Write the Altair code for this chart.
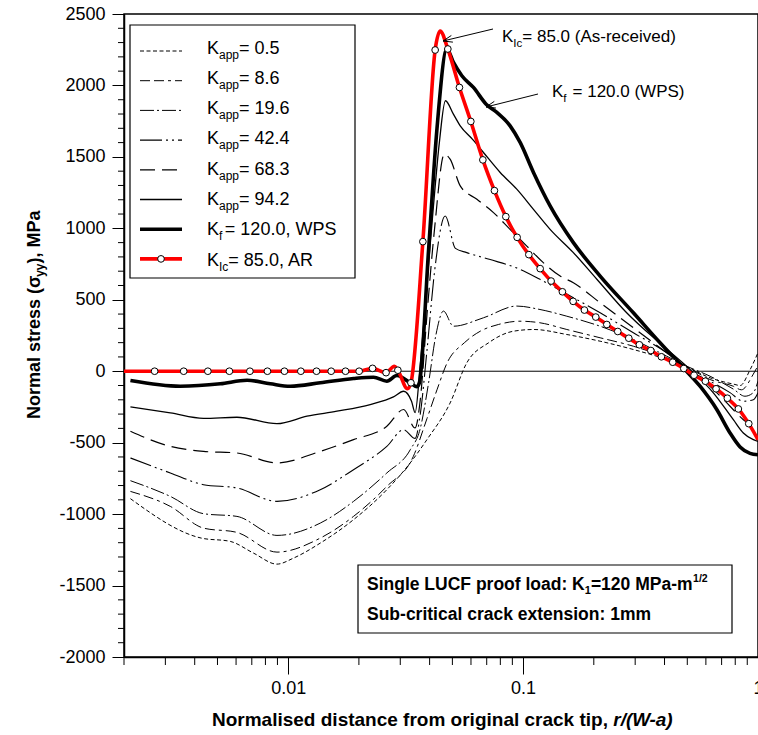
import math
import altair as alt
import pandas as pd

# ---------------- data ----------------
K05_X = [0.00213, 0.00427, 0.00567, 0.00712, 0.00896, 0.01053, 0.01369, 0.01897, 0.0263, 0.03306,
         0.03895, 0.0489, 0.0576, 0.0713, 0.091, 0.111, 0.1535, 0.2128, 0.2947, 0.4089,
         0.4974, 0.625, 0.7852, 0.84, 0.925, 1.0]
K05_Y = [-892, -1168, -1191, -1273, -1350, -1308, -1203, -1039, -829, -642,
         -479, -222, 59, 199, 280, 292, 257, 210, 152, 82,
         31, -46, -90, -100, 10, 130]

K86_X = [0.00213, 0.00315, 0.00436, 0.00605, 0.00896, 0.01369, 0.01897, 0.0263, 0.0341, 0.039,
         0.043, 0.0475, 0.0562, 0.0657, 0.0785, 0.097, 0.118, 0.1535, 0.2128, 0.2947,
         0.4089, 0.4974, 0.625, 0.7852, 0.85, 0.9552, 1.0]
K86_Y = [-841, -946, -1098, -1128, -1266, -1168, -1016, -806, -596, -330,
         -130, 59, 199, 280, 327, 350, 339, 292, 234, 175,
         94, 31, -58, -105, -130, -20, 40]

K196_X = [0.00213, 0.00315, 0.00436, 0.00605, 0.00896, 0.01369, 0.01897, 0.0263, 0.0331, 0.0365,
          0.0396, 0.0425, 0.0458, 0.0505, 0.0678, 0.094, 0.118, 0.1535, 0.2128, 0.2947,
          0.4089, 0.4974, 0.625, 0.7852, 0.88, 0.9552, 1.0]
K196_Y = [-766, -876, -997, -1016, -1149, -1063, -911, -712, -549, -400,
          -81, 250, 421, 315, 374, 456, 432, 385, 315, 222,
          105, 35, -35, -125, -175, -150, -70]

K424_X = [0.00213, 0.00315, 0.00436, 0.00605, 0.00896, 0.01369, 0.01897, 0.0263, 0.031, 0.0347,
          0.0365, 0.039, 0.042, 0.0466, 0.0515, 0.0576, 0.0718, 0.0971, 0.118, 0.1535,
          0.2128, 0.2947, 0.4089, 0.5137, 0.625, 0.7603, 0.8661, 0.9552, 1.0]
K424_Y = [-607, -712, -794, -817, -911, -829, -689, -526, -409, -470,
          -300, 150, 700, 1086, 860, 830, 783, 713, 643, 540,
          409, 269, 129, 0, -70, -150, -210, -200, -150]

K683_X = [0.00213, 0.00315, 0.00436, 0.00605, 0.00896, 0.01369, 0.01897, 0.0263, 0.031, 0.0347,
          0.0365, 0.039, 0.042, 0.0462, 0.0489, 0.054, 0.0636, 0.0748, 0.088, 0.1037,
          0.1219, 0.1438, 0.1637, 0.2128, 0.2947, 0.4089, 0.4974, 0.625, 0.7603, 0.8661,
          0.9552, 1.0]
K683_Y = [-420, -526, -561, -572, -642, -561, -479, -385, -268, -397,
          -200, 400, 1000, 1519, 1484, 1297, 1203, 1110, 993, 876,
          760, 666, 619, 479, 304, 129, 24, -105, -245, -339,
          -385, -395]

K942_X = [0.00213, 0.00315, 0.00436, 0.00605, 0.00896, 0.01202, 0.01612, 0.02234, 0.02806, 0.031,
          0.0335, 0.0347, 0.0365, 0.039, 0.0415, 0.044, 0.0467, 0.0505, 0.054, 0.0608,
          0.0678, 0.0799, 0.094, 0.1107, 0.1303, 0.1637, 0.2065, 0.276, 0.3956, 0.5137,
          0.6455, 0.7852, 0.8661, 0.9552, 1.0]
K942_Y = [-250, -292, -330, -322, -367, -315, -280, -233, -180, -140,
          -210, -290, 50, 620, 1150, 1600, 1893, 1799, 1717, 1624,
          1531, 1391, 1274, 1133, 993, 830, 642, 409, 175, 12,
          -151, -339, -432, -479, -491]

WPS_X = [0.00213, 0.00347, 0.00514, 0.00668, 0.00839, 0.0102, 0.01369, 0.01897, 0.02307, 0.0263,
         0.02903, 0.03306, 0.0353, 0.0362, 0.0396, 0.043, 0.0474, 0.05054, 0.05486, 0.06146,
         0.06962, 0.07731, 0.08806, 0.09714, 0.1107, 0.1303, 0.1637, 0.2128, 0.2947, 0.3829,
         0.4811, 0.5666, 0.6676, 0.7603, 0.8389, 0.9249, 1.0]
WPS_Y = [-65, -105, -88, -63, -88, -105, -81, -51, -42, -70,
         -30, -81, -109, -80, 850, 1700, 2255, 2161, 2068, 1986,
         1869, 1811, 1717, 1601, 1391, 1157, 900, 666, 409, 199,
         24, -105, -268, -432, -530, -575, -585]

AR_X = [0.002, 0.0027, 0.00359, 0.00455, 0.00562, 0.00687, 0.00816, 0.00964, 0.01132, 0.0132,
        0.01524, 0.01754, 0.02005, 0.02286, 0.0261, 0.0283, 0.0293, 0.0322, 0.0333, 0.03744,
        0.04223, 0.04436, 0.04782, 0.05358, 0.05991, 0.06741, 0.07551, 0.08443, 0.09432, 0.1058,
        0.1182, 0.1316, 0.147, 0.1633, 0.1824, 0.2039, 0.2272, 0.2529, 0.2818, 0.3126,
        0.3497, 0.3879, 0.4335, 0.4831, 0.5343, 0.597, 0.663, 0.7405, 0.8248, 0.9134,
        1.0]
AR_Y = [0, 0, 0, 0, 0, 0, 0, 0, 0, 0,
        0, 0, 0, 20, -10, 35, 7, -123, -81, 907,
        2248, 2380, 2255, 1986, 1748, 1479, 1264, 1082, 937, 816,
        718, 631, 556, 489, 428, 379, 327, 278, 231, 185,
        145, 101, 63, 19, -28, -70, -123, -189, -264, -367,
        -479]
AR_MARK = [0, 1, 1, 1, 1, 1, 1, 1, 1, 1,
           1, 1, 1, 1, 1, 0, 1, 0, 1, 1,
           1, 0, 1, 1, 1, 1, 1, 1, 1, 1,
           1, 1, 1, 1, 1, 1, 1, 1, 1, 1,
           1, 1, 1, 1, 1, 1, 1, 1, 1, 1,
           0]

X_MAJOR = [0.01, 0.1, 1]
X_MINOR = [0.002, 0.003, 0.004, 0.005, 0.006, 0.007, 0.008, 0.009,
           0.02, 0.03, 0.04, 0.05, 0.06, 0.07, 0.08, 0.09,
           0.2, 0.3, 0.4, 0.5, 0.6, 0.7, 0.8, 0.9]
Y_MAJOR = list(range(-2000, 2501, 500))
Y_MINOR = [v for v in range(-2000, 2501, 100) if v % 500 != 0]

LEGEND_SUB = ["app", "app", "app", "app", "app", "app", "f", "Ic"]
LEGEND_TAIL = ["= 0.5", "= 8.6", "= 19.6", "= 42.4", "= 68.3", "= 94.2", "= 120.0, WPS", "= 85.0, AR"]

# ---------------- layout / style ----------------
FONT = "Liberation Sans"
W, H = 634, 643
PL, PT = 124, 14
RED = "#ff0000"

SERIES = [
    (K05_X, K05_Y, "black", 1.0, [4, 2.5]),
    (K86_X, K86_Y, "black", 1.0, [10, 4, 10, 4, 3, 4]),
    (K196_X, K196_Y, "black", 1.0, [14, 3, 2, 3]),
    (K424_X, K424_Y, "black", 1.1, [22, 4, 2, 4, 2, 4]),
    (K683_X, K683_Y, "black", 1.2, [15, 7]),
    (K942_X, K942_Y, "black", 1.3, None),
    (WPS_X, WPS_Y, "black", 3.6, None),
    (AR_X, AR_Y, RED, 3.6, None),
]

REG = {' ': 278, '!': 278, '(': 333, ')': 333, ',': 278, '-': 333, '.': 278, '/': 278, ':': 278,
       '=': 584, 'A': 667, 'C': 722, 'E': 667, 'F': 611, 'I': 278, 'K': 667, 'L': 556, 'M': 833,
       'N': 722, 'P': 667, 'R': 722, 'S': 667, 'U': 722, 'W': 944, 'a': 556, 'b': 556, 'c': 500,
       'd': 556, 'e': 556, 'f': 278, 'g': 556, 'h': 556, 'i': 222, 'k': 500, 'l': 222, 'm': 833,
       'n': 556, 'o': 556, 'p': 556, 'r': 333, 's': 500, 't': 278, 'u': 556, 'v': 500, 'x': 500,
       'y': 500, 'σ': 571}
BOLD = {' ': 278, '(': 333, ')': 333, ',': 278, '-': 333, '.': 278, '/': 278, ':': 333, '=': 584,
        'A': 722, 'C': 722, 'F': 611, 'I': 278, 'K': 722, 'L': 611, 'M': 833, 'N': 722, 'P': 667,
        'S': 667, 'U': 722, 'W': 944, 'a': 556, 'b': 611, 'c': 556, 'd': 611, 'e': 556, 'f': 333,
        'g': 611, 'h': 611, 'i': 278, 'k': 556, 'l': 278, 'm': 889, 'n': 611, 'o': 611, 'p': 611,
        'r': 389, 's': 556, 't': 333, 'u': 611, 'x': 556, 'y': 556, 'σ': 617}
for d in "0123456789":
    REG[d] = 556
    BOLD[d] = 556


def tw(s, size, bold=False):
    tab = BOLD if bold else REG
    return sum(tab.get(c, 556) for c in s) * size / 1000.0


ONE = pd.DataFrame({"a": [0]})


def text(s, x, y, size, bold=False, italic=False, angle=None):
    kw = dict(text=s, align="left", baseline="alphabetic", font=FONT, fontSize=size,
              fontWeight="bold" if bold else "normal",
              fontStyle="italic" if italic else "normal", color="black")
    if angle is not None:
        kw["angle"] = angle
    return alt.Chart(ONE).mark_text(**kw).encode(x=alt.value(x), y=alt.value(y))


def rich(pieces, x, y, angle=None):
    """pieces: (text, size, bold, italic, dy, extra_advance)"""
    out, cur = [], 0.0
    for s, size, bold, ital, dy, extra in pieces:
        if s:
            if angle == 270:
                out.append(text(s, x + dy, y - cur, size, bold, ital, angle=270))
            else:
                out.append(text(s, x + cur, y + dy, size, bold, ital))
        cur += tw(s, size, bold) + extra
    return out


def seg(x1, y1, x2, y2, color="black", width=1.0, dash=None):
    kw = dict(color=color, strokeWidth=width)
    if dash:
        kw["strokeDash"] = dash
    return alt.Chart(ONE).mark_rule(**kw).encode(
        x=alt.value(x1), y=alt.value(y1), x2=alt.value(x2), y2=alt.value(y2))


def arrow(x1, y1, x2, y2, head=10, ang=20):
    dx, dy = x1 - x2, y1 - y2
    L = math.hypot(dx, dy)
    ux, uy = dx / L, dy / L
    out = [seg(x1, y1, x2, y2, width=1)]
    for s in (1, -1):
        a = math.radians(ang * s)
        hx = ux * math.cos(a) - uy * math.sin(a)
        hy = ux * math.sin(a) + uy * math.cos(a)
        out.append(seg(x2, y2, x2 + head * hx, y2 + head * hy, width=1))
    return out


def P(px, py):
    return px - PL, py - PT


X_ENC = alt.X("x:Q",
              scale=alt.Scale(type="log", domain=[0.002, 1], nice=False),
              axis=alt.Axis(values=X_MAJOR, title=None, grid=False, tickSize=17, tickWidth=1,
                            tickColor="black", domainColor="black", domainWidth=1.5,
                            labelExpr="datum.value < 0.05 ? '0.01' : (datum.value < 0.5 ? '0.1' : '1')",
                            labelFont=FONT, labelFontSize=18, labelColor="black",
                            labelPadding=5, labelFlush=False, labelOverlap=False))
Y_ENC = alt.Y("y:Q",
              scale=alt.Scale(domain=[-2000, 2500], nice=False, zero=False),
              axis=alt.Axis(values=Y_MAJOR, title=None, grid=False, tickSize=12, tickWidth=1,
                            tickColor="black", domainColor="black", domainWidth=1.5,
                            labelExpr="toString(datum.value)",
                            labelFont=FONT, labelFontSize=18, labelColor="black",
                            labelPadding=7, labelOverlap=False))

layers = []

# zero line
layers.append(alt.Chart(pd.DataFrame({"y": [0]})).mark_rule(color="black", strokeWidth=1)
              .encode(y=Y_ENC))

# minor ticks
layers.append(alt.Chart(pd.DataFrame({"x": X_MINOR})).mark_rule(color="black", strokeWidth=1)
              .encode(x=X_ENC, y=alt.value(H), y2=alt.value(H + 8)))
layers.append(alt.Chart(pd.DataFrame({"y": Y_MINOR})).mark_rule(color="black", strokeWidth=1)
              .encode(y=Y_ENC, x=alt.value(0), x2=alt.value(-6)))

# curves
for xs, ys, color, w, dash in SERIES:
    kw = dict(interpolate="monotone", clip=True, color=color, strokeWidth=w)
    if dash:
        kw["strokeDash"] = dash
    layers.append(alt.Chart(pd.DataFrame({"x": xs, "y": ys})).mark_line(**kw)
                  .encode(x=X_ENC, y=Y_ENC))

# markers on red curve
mk = pd.DataFrame({"x": AR_X, "y": AR_Y, "m": AR_MARK})
mk = mk[mk["m"] == 1]
layers.append(alt.Chart(mk).mark_point(shape="circle", filled=True, fill="white", stroke="black",
                                       strokeWidth=1, size=45, opacity=1, clip=True)
              .encode(x=X_ENC, y=Y_ENC))

# legend box
lx0, ly0 = P(130, 25)
lx1, ly1 = P(355, 278)
layers.append(alt.Chart(ONE).mark_rect(fill="white", stroke="black", strokeWidth=1.2)
              .encode(x=alt.value(lx0), x2=alt.value(lx1), y=alt.value(ly0), y2=alt.value(ly1)))
for i in range(8):
    _, _, color, w, dash = SERIES[i]
    sx0, sy = P(140, 51 + 29.7 * i)
    sx1, _ = P(182, 0)
    layers.append(seg(sx0, sy, sx1, sy, color=color, width=w, dash=dash))
    if i == 7:
        layers.append(alt.Chart(ONE).mark_point(shape="circle", filled=True, fill="white",
                                                stroke="black", strokeWidth=1, size=45, opacity=1)
                      .encode(x=alt.value((sx0 + sx1) / 2), y=alt.value(sy)))
    tx, ty = P(207, 53.5 + 30.3 * i)
    sub = LEGEND_SUB[i]
    layers += rich([("K", 18, False, False, 0, 0),
                    (sub, 12, False, False, 5, 2.5 if sub == "f" else 0),
                    (LEGEND_TAIL[i], 18, False, False, 0, 0)], tx, ty)

# annotations with arrows
ax, ay = P(502, 41.5)
layers += rich([("K", 17, False, False, 0, 0), ("Ic", 11.5, False, False, 5, 0),
                ("= 85.0 (As-received)", 17, False, False, 0, 0)], ax, ay)
ax, ay = P(552, 96.5)
layers += rich([("K", 17, False, False, 0, 0), ("f", 11.5, False, False, 5, 6),
                ("= 120.0 (WPS)", 17, False, False, 0, 0)], ax, ay)
layers += arrow(*P(493, 29), *P(443, 41))
layers += arrow(*P(538, 94), *P(486, 107))

# inset box
bx0, by0 = P(358, 565)
bx1, by1 = P(732, 633)
layers.append(alt.Chart(ONE).mark_rect(fill="white", stroke="black", strokeWidth=1.2)
              .encode(x=alt.value(bx0), x2=alt.value(bx1), y=alt.value(by0), y2=alt.value(by1)))
tx, ty = P(367, 590)
layers += rich([("Single LUCF proof load: K", 17.5, True, False, 0, 0),
                ("1", 11, True, False, 4, 0),
                ("=120 MPa-m", 17.5, True, False, 0, 0.5),
                ("1/2", 10.5, True, False, -8, 0)], tx, ty)
tx, ty = P(367, 620)
layers += rich([("Sub-critical crack extension: 1mm", 17.5, True, False, 0, 0)], tx, ty)

# axis titles
tx, ty = P(212, 726)
layers += rich([("Normalised distance from original crack tip, ", 19, True, False, 0, 0),
                ("r/(W-a)", 19, True, True, 0, 0)], tx, ty)
tx, ty = P(40, 419)
layers += rich([("Normal stress (σ", 18, True, False, 0, 0),
                ("yy", 12, True, False, 4, 0),
                ("), MPa", 18, True, False, 0, 0)], tx, ty, angle=270)

chart = alt.layer(*layers).properties(
    width=W, height=H,
    padding={"left": PL, "top": PT, "right": 0, "bottom": 735 - PT - H},
    autosize=alt.AutoSizeParams(type="none"),
    background="white",
).configure_view(stroke="black", strokeWidth=1.5)

chart.save("out.html", embed_options={"renderer": "svg", "actions": False})
